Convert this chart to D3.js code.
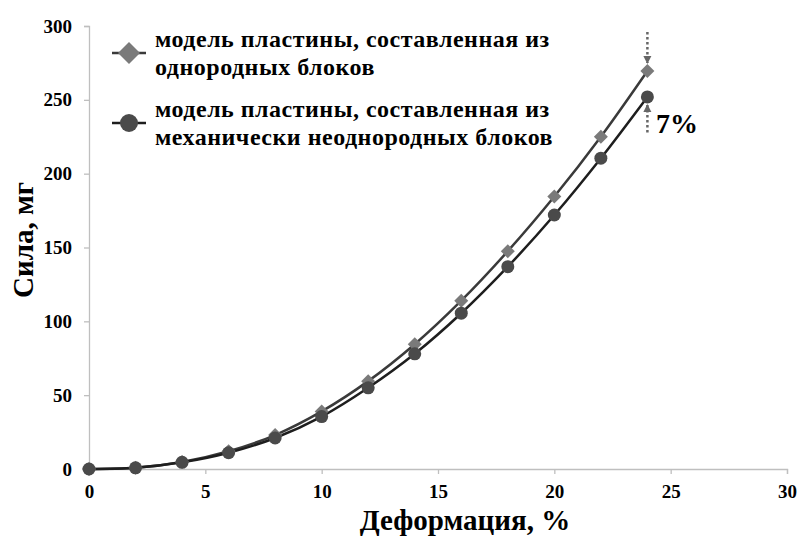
<!DOCTYPE html>
<html>
<head>
<meta charset="utf-8">
<script src="https://cdn.jsdelivr.net/npm/d3@7"></script>
<style>
  html, body { margin: 0; padding: 0; background: #fff; }
  svg { display: block; }
  text { font-family: "Liberation Serif", "Times New Roman", serif; font-weight: bold; }
  .axis text { font-size: 19px; fill: #000; }
</style>
</head>
<body>
<svg id="chart" width="798" height="540"></svg>
<script>
// Deformation (%) at each measured point
const deformation = [0, 2, 4, 6, 8, 10, 12, 14, 16, 18, 20, 22, 24];
// Force (mg) for the plate made of homogeneous blocks
const forceHomogeneous = [0, 0.8, 4.7, 12, 23, 39, 59.5, 84.5, 114, 147.5, 184.5, 225, 269.5];
// Force (mg) for the plate made of mechanically inhomogeneous blocks
const forceInhomogeneous = [0, 0.8, 4.5, 11, 21, 35.5, 55, 78, 105.5, 137, 172, 210.5, 252];
const xTicks = [0, 5, 10, 15, 20, 25, 30];
const yTicks = [0, 50, 100, 150, 200, 250, 300];
const legendLabels = [
  ["модель пластины, составленная из", "однородных блоков"],
  ["модель пластины,  составленная из", "механически  неоднородных блоков"]
];
const diffLabel = "7%";

const svg = d3.select("#chart");
const x = d3.scaleLinear().domain([0, 30]).range([89, 787]);
const y = d3.scaleLinear().domain([0, 300]).range([469, 26]);

const axisColor = "#bfbfbf";

function styleAxis(g) {
  g.attr("class", "axis").attr("font-size", 19).attr("font-family", "Liberation Serif");
  g.select(".domain").attr("stroke", axisColor).attr("stroke-width", 1.3);
  g.selectAll(".tick line").attr("stroke", axisColor).attr("stroke-width", 1.3);
  g.selectAll(".tick text").attr("fill", "#000").attr("font-size", 19).attr("font-weight", "bold");
}

// Y axis
const gy = svg.append("g").attr("transform", `translate(${x(0)},0)`)
  .call(d3.axisLeft(y).tickValues(yTicks).tickSize(5).tickPadding(12));
styleAxis(gy);

// X axis
const gx = svg.append("g").attr("transform", `translate(0,${y(0)})`)
  .call(d3.axisBottom(x).tickValues(xTicks).tickSize(5).tickPadding(11));
styleAxis(gx);

// Axis titles
svg.append("text").attr("x", 465).attr("y", 530).attr("text-anchor", "middle")
  .style("font-size", "29px").text("Деформация, %");
svg.append("text").attr("transform", "translate(33,240) rotate(-90)")
  .attr("text-anchor", "middle").style("font-size", "29px").text("Сила, мг");

// Series
const series = [
  { values: forceHomogeneous, line: "#3a3a3a", fill: "#7a7a7a", shape: "diamond" },
  { values: forceInhomogeneous, line: "#1e1e1e", fill: "#4a4a4a", shape: "circle" }
];

const line = d3.line()
  .x((d, i) => x(deformation[i]))
  .y(d => y(d))
  .curve(d3.curveCatmullRom.alpha(0.5));

function marker(g, shape, fill, cx, cy, r) {
  if (shape === "diamond") {
    g.append("path")
      .attr("d", `M${cx},${cy - r}L${cx + r},${cy}L${cx},${cy + r}L${cx - r},${cy}Z`)
      .attr("fill", fill);
  } else {
    g.append("circle").attr("cx", cx).attr("cy", cy).attr("r", r).attr("fill", fill);
  }
}

series.forEach(s => {
  svg.append("path").datum(s.values).attr("d", line)
    .attr("fill", "none").attr("stroke", s.line).attr("stroke-width", 2.5);
});
series.forEach(s => {
  const g = svg.append("g");
  s.values.forEach((v, i) => marker(g, s.shape, s.fill, x(deformation[i]), y(v), s.shape === "diamond" ? 7 : 6.5));
});

// Legend
const legendY = [53, 123];
legendLabels.forEach((lines, k) => {
  const s = series[k];
  const g = svg.append("g");
  g.append("line").attr("x1", 112).attr("x2", 146).attr("y1", legendY[k]).attr("y2", legendY[k])
    .attr("stroke", s.line).attr("stroke-width", 2.5);
  marker(g, s.shape, s.fill, 129, legendY[k], s.shape === "diamond" ? 11 : 9);
  lines.forEach((t, j) => {
    g.append("text").attr("x", 155).attr("y", legendY[k] - 6 + j * 28)
      .style("font-size", "24px").style("letter-spacing", "0.5px").text(t);
  });
});

// Difference annotation at the last point
const last = deformation.length - 1;
const ax = x(deformation[last]);
const yTop = y(forceHomogeneous[last]);
const yBot = y(forceInhomogeneous[last]);
svg.append("line").attr("x1", ax).attr("x2", ax).attr("y1", 32).attr("y2", yTop - 8)
  .attr("stroke", "#666").attr("stroke-width", 2.5).attr("stroke-dasharray", "2.5,2.5");
svg.append("line").attr("x1", ax).attr("x2", ax).attr("y1", yBot + 8).attr("y2", 133)
  .attr("stroke", "#666").attr("stroke-width", 2.5).attr("stroke-dasharray", "2.5,2.5");
svg.append("path").attr("d", `M${ax - 4},${yTop - 15}L${ax + 4},${yTop - 15}L${ax},${yTop - 7}Z`).attr("fill", "#666");
svg.append("path").attr("d", `M${ax - 4},${yBot + 15}L${ax + 4},${yBot + 15}L${ax},${yBot + 7}Z`).attr("fill", "#666");
svg.append("text").attr("x", 656).attr("y", 133).style("font-size", "28px").text(diffLabel);
</script>
</body>
</html>
